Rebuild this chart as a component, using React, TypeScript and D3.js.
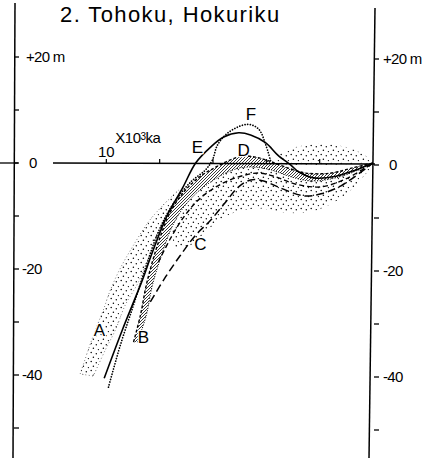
import React from 'react';
import * as d3 from 'd3';

// sea-level curves, Tohoku & Hokuriku. t = x10^3 ka (BP), h = metres
type Pt = [number, number];

const curveE: Pt[] = [
  [10.08, -40.6], [9.4, -31.5], [8.65, -22.1], [8.27, -16.8], [7.71, -9.8], [7.14, -4.7],
  [6.65, 0], [6.09, 3.0], [5.6, 4.9], [5.04, 5.7], [4.59, 5.3], [4.02, 3.8], [3.57, 1.5],
  [3.08, -0.4], [2.78, -1.7], [2.22, -2.8], [1.39, -2.5], [0.64, -1.3], [0, 0],
];

const curveF: Pt[] = [
  [9.92, -42.3], [9.47, -34.3], [8.98, -26.8], [8.53, -19.8], [8.05, -13.0], [7.52, -7.9],
  [6.84, -3.6], [6.28, -1.3], [6.02, 0.6], [5.83, 3.4], [5.41, 5.8], [4.7, 7.3], [4.29, 6.4],
  [4.02, 3.4], [3.83, 0.2],
];

const curveC: Pt[] = [
  [8.35, -26.2], [7.78, -21.5], [7.22, -17.4], [6.65, -13.6], [6.09, -10.8], [5.53, -7.4],
  [5.04, -4.5], [4.59, -3.2], [4.1, -3.4], [3.57, -4.5], [2.59, -6.2], [1.95, -5.8],
  [1.2, -4.3], [0, 0],
];

const curveD: Pt[] = [
  [8.05, -18.7], [7.59, -14.2], [7.07, -10.0], [6.47, -6.6], [5.71, -4.0], [4.96, -2.5],
  [4.29, -1.9], [3.65, -2.6], [2.89, -4.0], [1.95, -4.5], [1.02, -3.0], [0, 0],
];

const bandBTop: Pt[] = [
  [8.98, -33.8], [8.72, -28.7], [8.5, -23.0], [8.2, -17.4], [7.86, -12.3], [7.52, -8.5],
  [7.03, -5.1], [6.47, -2.5], [5.9, -0.8], [5.34, 0.6], [4.89, 1.3], [4.4, 1.1], [3.91, 0.4],
  [3.27, -0.8], [2.52, -1.9], [1.58, -1.9], [0.75, -0.9], [0, 0],
];
const bandBBottom: Pt[] = [
  [8.83, -33.8], [8.5, -28.7], [8.27, -23.0], [7.93, -17.4], [7.56, -12.3], [7.18, -8.9],
  [6.65, -5.8], [6.09, -3.6], [5.53, -1.9], [4.96, -0.9], [4.4, -0.8], [3.83, -1.3],
  [3.08, -2.6], [2.33, -3.4], [1.39, -2.8], [0.64, -1.5], [0, 0],
];

const bandALeft: Pt[] = [
  [10.98, -39.8], [10.68, -35.3], [10.41, -31.5], [10.11, -27.7], [9.85, -24.0], [9.47, -19.8],
  [8.98, -15.5], [8.42, -11.1], [7.86, -7.9], [7.29, -5.1],
];
const bandARight: Pt[] = [
  [10.49, -40.2], [10.04, -35.3], [9.66, -31.5], [9.29, -26.8], [8.8, -22.5], [8.42, -17.9],
  [8.05, -13.6], [7.67, -9.8], [7.22, -6.0],
];

const stippleLowTop: Pt[] = [
  [7.59, -12.6], [7.18, -8.9], [6.65, -5.8], [6.09, -3.6], [5.53, -1.9], [4.96, -0.9],
  [4.4, -0.8], [3.83, -1.3], [3.08, -2.6], [2.33, -3.4], [1.39, -2.8], [0.64, -1.5], [0, 0],
];
const stippleLowBottom: Pt[] = [
  [7.41, -16.4], [6.84, -15.5], [6.28, -13.0], [5.64, -10.4], [4.96, -9.0], [4.21, -8.6],
  [3.27, -9.4], [2.33, -9.2], [1.39, -7.2], [0.64, -4.2], [0, -0.4],
];

const stippleHighTop: Pt[] = [
  [3.76, 0], [3.46, 1.9], [2.89, 3.0], [2.14, 3.6], [1.39, 3.4], [0.75, 2.6], [0.26, 1.3], [0, 0],
];
const stippleHighBottom: Pt[] = [[3.76, -0.3], [2.0, -0.4], [0, 0]];

const xTicks = [10, 8, 6, 4, 2];
const yTicks = [20, 10, 0, -10, -20, -30, -40, -50];
const leftLabels: [number, string][] = [[20, '+20 m'], [0, '0'], [-20, '-20'], [-40, '-40']];
const rightLabels: [number, string][] = [[20, '+20 m'], [0, '0'], [-20, '-20'], [-40, '-40']];

const curveLetters: [string, number, number][] = [
  ['A', 10.26, -31.5], ['B', 8.61, -32.8], ['C', 6.47, -15.3],
  ['E', 6.58, 3.0], ['F', 4.58, 9.2], ['D', 4.85, 2.5],
];

const W = 423;
const H = 458;

export default function App() {
  const x = d3.scaleLinear().domain([12, 0]).range([53, 373]);
  const y = d3.scaleLinear().domain([20, -40]).range([57, 375]);

  const line = d3.line<Pt>().x(d => x(d[0])).y(d => y(d[1])).curve(d3.curveCatmullRom.alpha(0.5));
  const band = (a: Pt[], b: Pt[]) => {
    const la = line(a) || '';
    const lb = (line([...b].reverse()) || '').replace(/^M/, 'L');
    return la + lb + 'Z';
  };

  const font = 'Liberation Sans, Arial, Helvetica, sans-serif';
  const x0 = x(0);
  const axL = 14;

  return (
    <svg width={W} height={H} style={{ position: 'absolute', left: 0, top: 0, background: '#fff' }}
      fontFamily={font}>
      <defs>
        <pattern id="stip" width="10" height="9" patternUnits="userSpaceOnUse">
          <circle cx="1.2" cy="1.4" r="0.75" fill="#000" />
          <circle cx="6.3" cy="2.8" r="0.7" fill="#000" />
          <circle cx="3.4" cy="6.2" r="0.75" fill="#000" />
          <circle cx="8.4" cy="7.6" r="0.65" fill="#000" />
        </pattern>
        <pattern id="hatch" width="3" height="3" patternUnits="userSpaceOnUse">
          <path d="M0,3 L3,0" stroke="#000" strokeWidth="0.9" />
          <circle cx="1.5" cy="1.5" r="0.4" fill="#000" />
        </pattern>
      </defs>

      {/* title */}
      <text x={60} y={22} fontSize={22} letterSpacing={1.4}>2. Tohoku, Hokuriku</text>

      {/* left axis */}
      <line x1={axL + 1} y1={3} x2={axL - 1} y2={H} stroke="#000" strokeWidth={1.5} />
      {yTicks.map(t => (
        <line key={'lt' + t} x1={axL} x2={axL + 5} y1={y(t)} y2={y(t)} stroke="#000" strokeWidth={1.3} />
      ))}
      <line x1={0} x2={axL + 4} y1={y(0)} y2={y(0)} stroke="#000" strokeWidth={1.3} />
      {leftLabels.map(([v, s]) => (
        <text key={'ll' + v} x={v === 0 ? 29 : v > 0 ? 26 : 22} y={y(v) + 5} fontSize={15}
          letterSpacing={-0.7}>{s}</text>
      ))}

      {/* right axis */}
      <line x1={x0 + 2} y1={8} x2={x0 - 4} y2={H} stroke="#000" strokeWidth={1.5} />
      {yTicks.map(t => (
        <line key={'rt' + t} x1={x0 + 1} x2={x0 + 6} y1={y(t) + 2} y2={y(t) + 2} stroke="#000" strokeWidth={1.3} />
      ))}
      {rightLabels.map(([v, s]) => (
        <text key={'rl' + v} x={v === 0 ? 389 : 383} y={y(v) + 7} fontSize={15} letterSpacing={-0.7}>{s}</text>
      ))}

      {/* time axis */}
      <line x1={x(12)} x2={x0 + 2} y1={y(0)} y2={y(0) + 1} stroke="#000" strokeWidth={1.4} />
      {xTicks.map(t => (
        <line key={'xt' + t} x1={x(t)} x2={x(t)} y1={y(0)} y2={y(0) - 4} stroke="#000" strokeWidth={1.2} />
      ))}
      <text x={x(10)} y={y(0) - 6} fontSize={15} textAnchor="middle">10</text>
      <text x={x(10) + 9} y={y(0) - 20} fontSize={15} letterSpacing={-0.5}>
        X10<tspan fontSize={10} dy={-3}>3</tspan><tspan dy={3}>ka</tspan>
      </text>

      {/* stippled bands */}
      <path d={band(bandALeft, bandARight)} fill="url(#stip)" />
      <path d={band(stippleLowTop, stippleLowBottom)} fill="url(#stip)" />
      <path d={band(stippleHighTop, stippleHighBottom)} fill="url(#stip)" />
      <path d={band(bandALeft, bandARight)} fill="none" stroke="#000" strokeWidth={0.9}
        strokeDasharray="0.8 2.6" opacity={0.7} />

      {/* dense band B */}
      <path d={band(bandBTop, bandBBottom)} fill="url(#hatch)" opacity={0.85} />
      <path d={line(bandBTop) || ''} fill="none" stroke="#000" strokeWidth={1.4} strokeDasharray="3 2" />
      <path d={line(bandBBottom) || ''} fill="none" stroke="#000" strokeWidth={1} strokeDasharray="1 1.5" />

      {/* curves */}
      <path d={line(curveD) || ''} fill="none" stroke="#000" strokeWidth={1.4} strokeDasharray="5 3" />
      <path d={line(curveC) || ''} fill="none" stroke="#000" strokeWidth={1.5} strokeDasharray="8 4" />
      <path d={line(curveF) || ''} fill="none" stroke="#000" strokeWidth={1.7} strokeDasharray="0.1 2.6"
        strokeLinecap="round" />
      <path d={line(curveE) || ''} fill="none" stroke="#000" strokeWidth={1.6} />

      {/* curve letters */}
      {curveLetters.map(([s, t, h]) => (
        <text key={s} x={x(t)} y={y(h) + 6} fontSize={17} textAnchor="middle"
          stroke="#fff" strokeWidth={2.5} paintOrder="stroke">{s}</text>
      ))}
    </svg>
  );
}
